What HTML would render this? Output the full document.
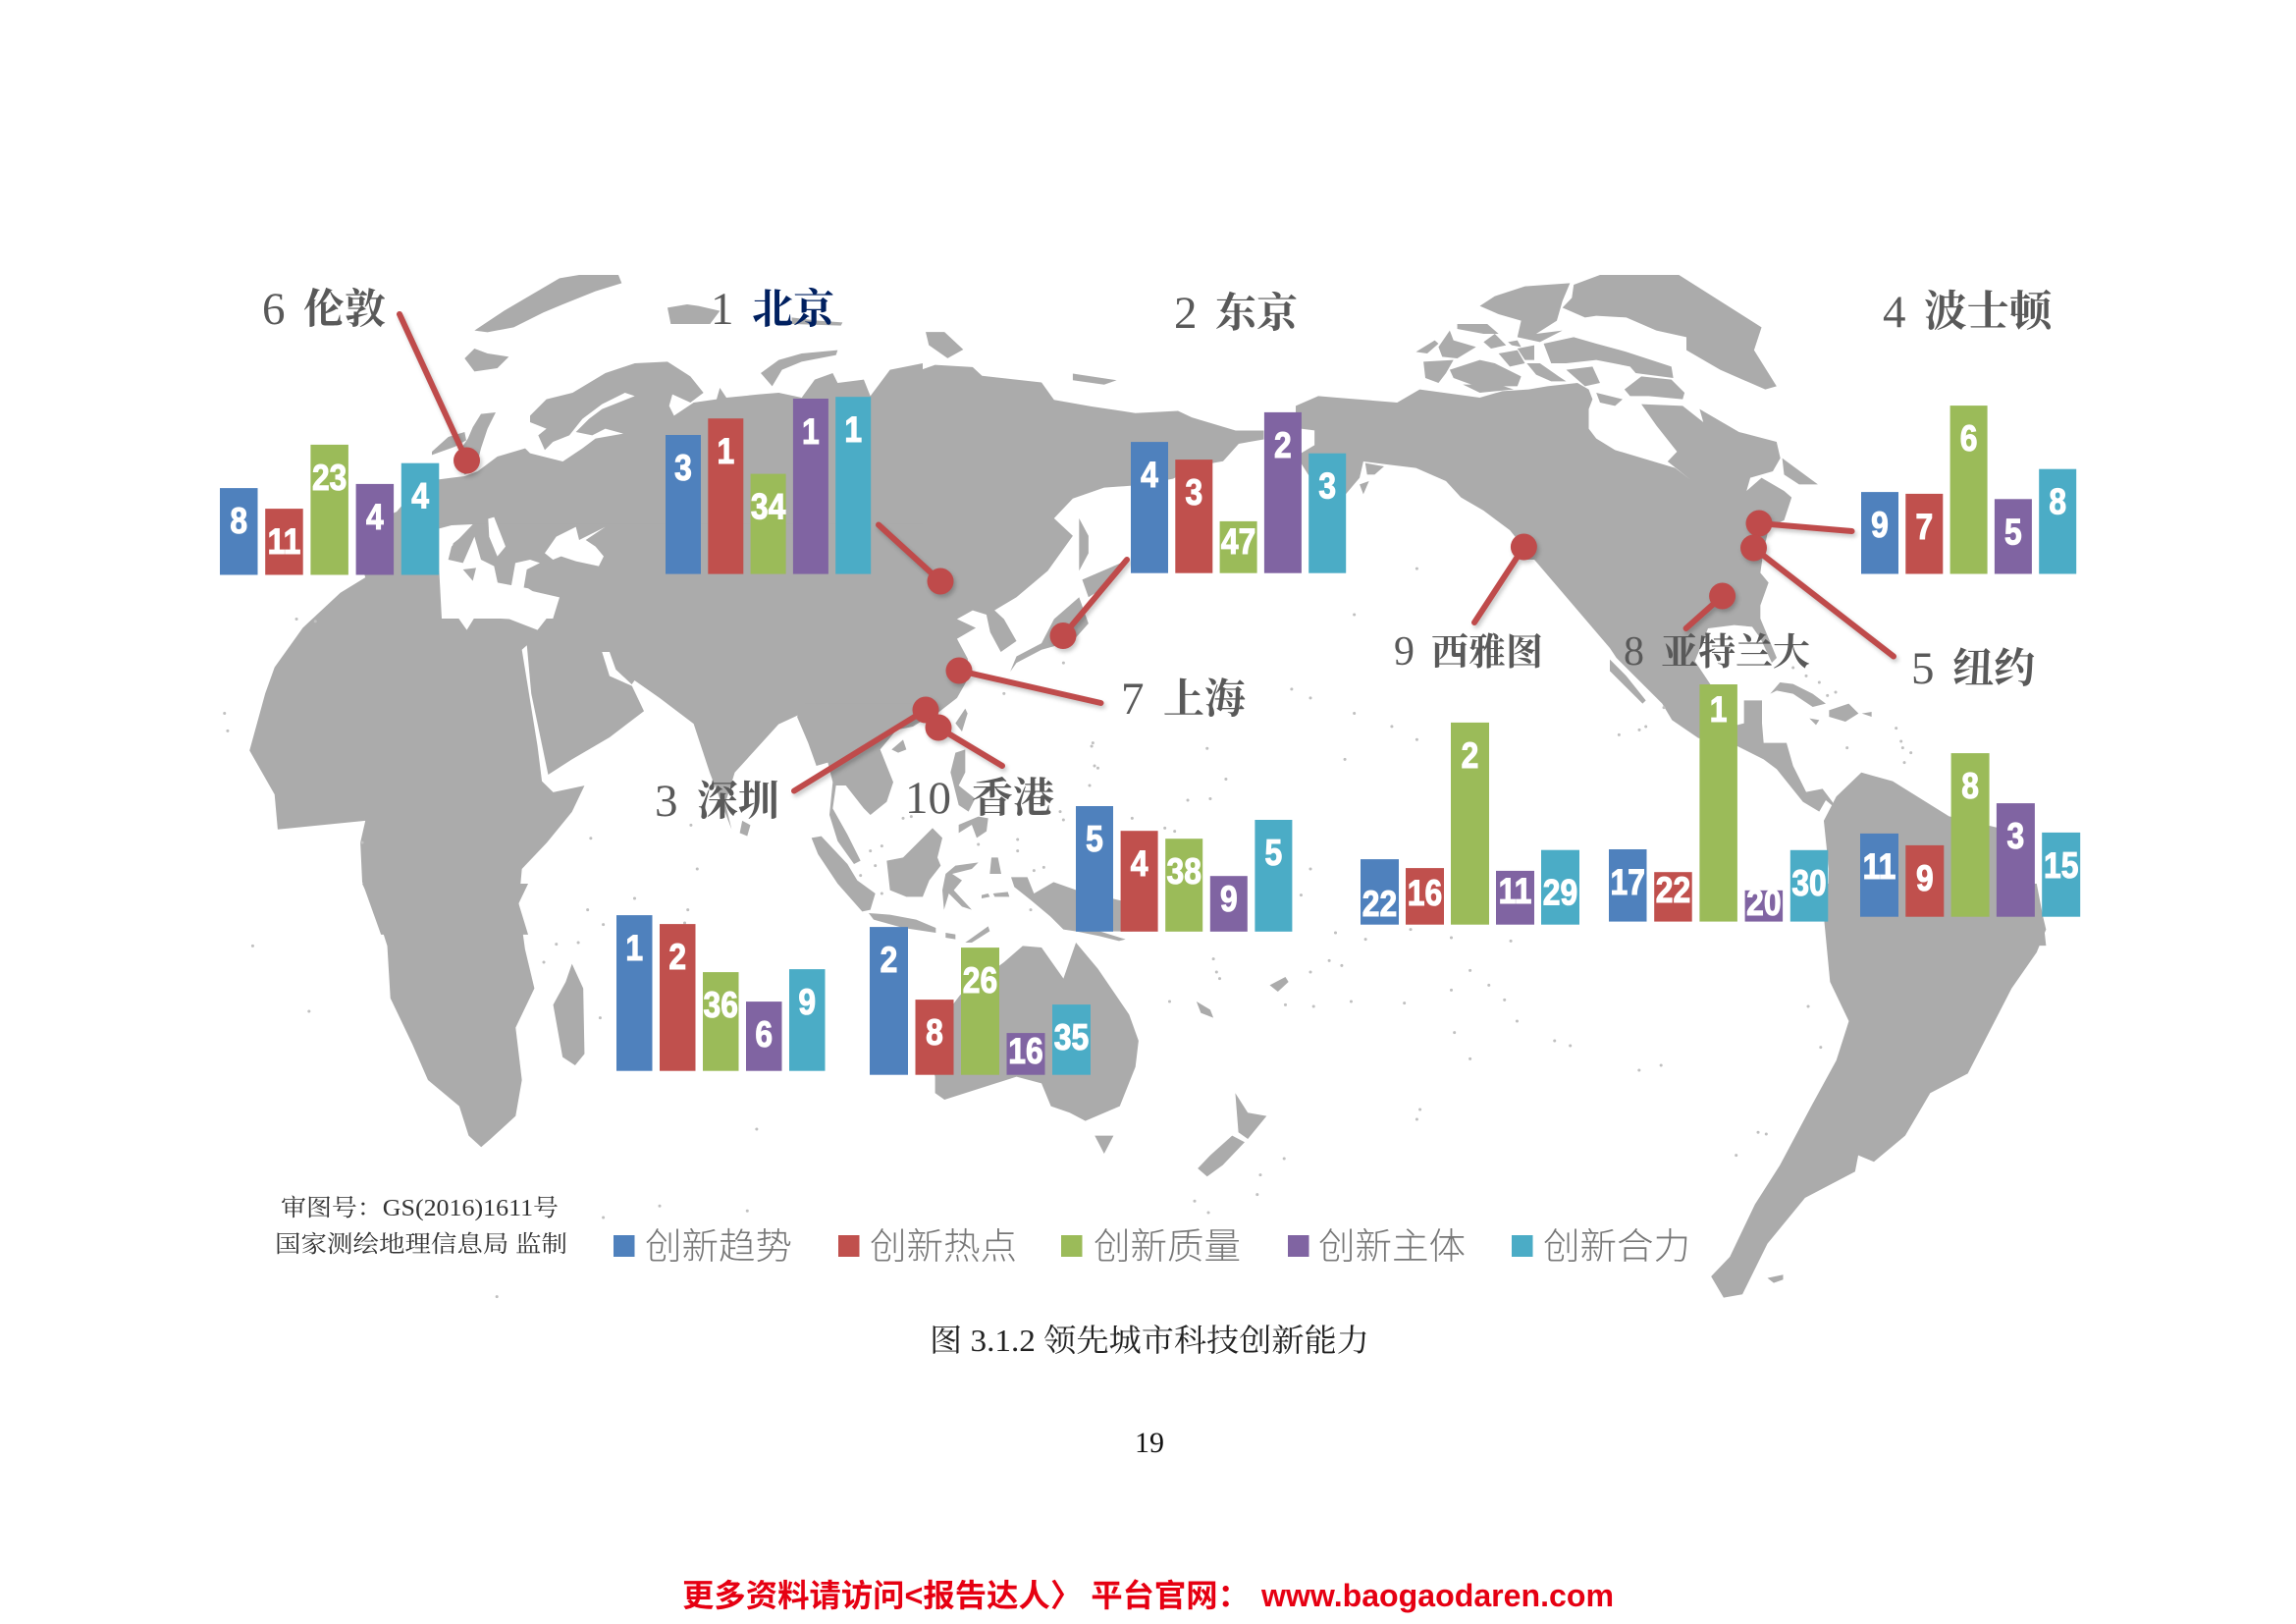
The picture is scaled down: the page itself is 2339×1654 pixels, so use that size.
<!DOCTYPE html>
<html lang="zh">
<head>
<meta charset="utf-8">
<title>领先城市科技创新能力</title>
<style>
html,body{margin:0;padding:0;background:#fff}
svg{display:block}
.land{fill:#ababab}
.sea{fill:#fff}
.dots{fill:none;stroke:#c0c0c0;stroke-width:3;stroke-linecap:round}
.dots{vector-effect:non-scaling-stroke}
.city-num{font-family:"Liberation Serif",serif;font-size:47px;fill:#595959}
.city-num.small{font-size:42px}
.city-name{font-family:"Liberation Serif","Noto Serif CJK SC",serif;font-size:42px;font-weight:700;fill:#595959}
.legend-text{font-family:"Liberation Sans","Noto Sans CJK SC",sans-serif;font-size:37px;font-weight:300;fill:#777}
.note{font-family:"Liberation Serif","Noto Serif CJK SC",serif;font-size:24px;fill:#333}
#leaders{filter:drop-shadow(2px 3px 2px rgba(0,0,0,.22))}
</style>
</head>
<body>
<svg id="chart" xmlns="http://www.w3.org/2000/svg" width="2339" height="1654" viewBox="0 0 2339 1654">
<rect width="2339" height="1654" fill="#fff"/>
<g id="world-map">
  <g transform="translate(200 260) scale(.6378 .4464)">
    <polygon class="land" points="85,1130 110,1000 125,940 170,850 230,770 270,735 262,700 265,620 320,585 335,560 385,510 395,600 1160,600 1160,260 1180,250 1240,255 1255,275 1350,290 1370,330 1430,345 1500,360 1568,355 1590,370 1660,400 1705,400 1705,420 1665,430 1640,470 1600,480 1560,510 1500,525 1450,530 1400,555 1370,600 1400,640 1360,720 1310,780 1275,810 1290,830 1310,880 1285,905 1268,860 1262,820 1240,810 1215,830 1245,850 1215,875 1232,920 1235,960 1215,1010 1170,1060 960,1050 930,1070 860,1180 845,1250 855,1310 820,1180 790,1050 800,1075 740,1010 700,970 695,980 715,1040 660,1100 600,1150 562,1185 535,1000 528,890 520,900 545,1120 552,1200 570,1225 620,1210 600,1270 560,1340 520,1400 515,1480 530,1550 295,1550 265,1430 262,1340 270,1290 130,1310 125,1230"/>
    <polygon class="sea" points="390,770 412,728 530,760 575,800 545,855 500,830 445,825 432,855 405,800"/>
    <polygon class="sea" points="648,905 660,905 670,945 700,985 660,960"/>
    <polygon class="land" points="1165,175 1195,175 1225,215 1200,235 1170,205"/>
    <polygon class="land" points="1400,270 1470,285 1450,295 1400,285"/>
    <polygon class="land" points="872,1290 885,1300 880,1325 868,1318"/>
    <polygon class="land" points="1300,950 1310,915 1350,885 1370,830 1410,780 1425,840 1400,880 1350,900 1310,930"/>
    <polygon class="land" points="1415,740 1480,700 1460,750 1425,780"/>
    <polygon class="land" points="1410,600 1425,640 1425,680 1410,720 1410,650"/>
    <path class="dots" d="M160 830h.1M190 835h.1M45 1045h.1M50 1085h.1M265 1340h.1M630 1330h.1M790 1300h.1M800 1400h.1M1430 1120h.1M1440 1170h.1M1385 930h.1M1290 1000h.1"/>
  </g>
  <g transform="translate(440 280) scale(.33333)">
    <polygon class="land" points="20,625 60,620 100,615 140,600 200,555 285,530 300,545 340,555 400,570 460,530 500,500 585,485 530,470 490,490 440,480 480,440 520,410 620,370 590,360 520,395 460,440 420,490 370,510 345,535 325,490 350,470 300,450 300,430 350,380 430,360 530,300 620,270 720,265 790,310 830,360 790,390 735,365 725,400 740,430 800,390 870,380 880,345 900,375 1000,365 1060,360 1130,375 1170,320 1225,300 1240,330 1320,320 1340,370 1400,290 1500,270 1500,760 20,760"/>
    <polygon class="sea" points="22,775 60,765 125,762 60,830 50,870 95,880 130,800 150,870 190,890 205,960 240,965 255,880 300,870 330,880 290,900 280,960 390,985 370,1050 30,1050 22,900"/>
    <polygon class="sea" points="172,745 190,740 225,830 200,860 175,800"/>
    <polygon class="sea" points="345,850 380,800 440,770 450,810 530,770 470,810 500,830 525,860 510,890 440,875 395,860 370,870"/>
    <polygon class="land" points="65,820 110,785 95,850 55,870"/>
    <polygon class="land" points="95,900 135,895 125,935"/>
    <polygon class="land" points="130,170 220,110 390,10 450,0 570,0 580,25 500,50 400,90 340,115 250,160 170,175"/>
    <polygon class="land" points="100,255 130,225 170,240 235,250 200,285 130,295"/>
    <polygon class="land" points="110,500 125,465 150,425 195,420 170,470 150,530 140,570 130,600 100,610 70,570 90,530"/>
    <polygon class="land" points="0,540 50,495 100,480 105,505 70,525 0,550"/>
    <polygon class="land" points="720,100 780,90 815,95 880,110 850,150 790,150 730,150"/>
    <polygon class="land" points="1100,130 1180,140 1255,145 1250,155 1100,150"/>
    <polygon class="land" points="1005,300 1060,260 1130,240 1240,230 1235,245 1130,265 1070,290 1040,340"/>
  </g>
  <g transform="translate(820 700) scale(.33333)">
    <polygon class="land" points="378,90 330,120 280,130 230,190 270,290 250,350 200,390 180,370 125,300 95,300 85,370 130,450 170,530 150,540 100,470 75,390 85,290 70,230 35,240 10,170 -24,90 0,50 378,50"/>
    <polygon class="land" points="265,190 300,160 310,190 285,200"/>
    <polygon class="land" points="20,460 50,455 130,540 160,590 215,630 200,680 175,685 100,600 40,510"/>
    <polygon class="land" points="250,530 300,520 390,430 420,460 405,520 415,545 380,590 360,640 310,640 260,620"/>
    <polygon class="land" points="195,690 260,695 340,710 400,735 400,750 300,735 210,710"/>
    <polygon class="land" points="430,570 460,545 530,535 510,555 450,570 480,590 455,620 510,680 480,670 440,630 425,680 420,620"/>
    <polygon class="land" points="460,200 490,190 490,260 470,300 520,340 500,380 470,360 445,260"/>
    <polygon class="land" points="470,420 530,395 560,400 555,440 525,460 510,420 470,445"/>
    <polygon class="land" points="460,110 490,65 497,80 480,135"/>
    <polygon class="land" points="490,780 560,730 565,745 510,780"/>
    <polygon class="land" points="430,750 460,755 460,770 430,765"/>
    <polygon class="land" points="575,630 620,625 625,640 580,640"/>
    <polygon class="land" points="540,635 560,630 565,640 540,645"/>
    <polygon class="land" points="570,520 590,520 600,570 565,570"/>
    <polygon class="land" points="630,580 680,580 700,630 760,595 830,620 1000,660 1000,746 900,745 980,770 960,775 900,760 830,746 790,740 750,700 690,650 640,610"/>
    <path class="dots" d="M300 400h.1M325 395h.1M200 500h.1M235 485h.1M215 545h.1M170 575h.1M235 630h.1M650 465h.1M650 500h.1M530 480h.1M880 170h.1M885 240h.1M870 300h.1M1000 400h.1M790 405h.1M780 380h.1M700 560h.1M730 550h.1M690 680h.1M1100 430h.1M1130 440h.1M1170 345h.1"/>
  </g>
  <g transform="translate(200 900) scale(.6378 .3333)">
    <polygon class="land" points="265,0 530,0 515,60 525,200 540,320 510,440 520,600 510,710 470,780 455,805 435,770 420,680 370,600 345,490 310,350 305,190 290,100"/>
    <polygon class="land" points="600,245 618,320 620,520 605,555 585,530 570,370 590,300"/>
    <polygon class="land" points="1290,240 1320,190 1350,195 1385,290 1405,180 1440,260 1490,400 1505,480 1500,560 1475,680 1420,725 1395,700 1365,680 1350,610 1310,590 1195,660 1180,640 1180,590 1165,480 1220,340"/>
    <polygon class="land" points="1435,770 1465,770 1450,825"/>
    <path class="dots" d="M90 190h.1M180 390h.1M700 45h.1M785 80h.1M780 120h.1M625 80h.1M650 125h.1M645 410h.1M555 240h.1M575 185h.1M610 180h.1M895 750h.1M740 985h.1M880 1000h.1M650 1020h.1M480 1262h.1"/>
  </g>
  <g transform="translate(1320 270) scale(.3827 .33333)">
    <polygon class="land" points="740,60 810,30 1020,30 1240,190 1220,260 1280,370 1250,380 1130,320 1040,260 1040,220 960,200 880,160 800,155 770,160 710,130 735,100"/>
    <polygon class="land" points="490,125 530,95 610,65 730,55 710,110 695,170 640,210 710,200 650,235 590,220 600,170 540,150"/>
    <polygon class="land" points="320,265 370,230 380,240 350,270"/>
    <polygon class="land" points="380,250 410,200 420,230 480,250 430,285 390,280"/>
    <polygon class="land" points="430,180 510,180 540,210 500,210 430,195"/>
    <polygon class="land" points="500,235 530,210 560,245 520,255"/>
    <polygon class="land" points="565,235 590,230 600,250 575,245"/>
    <polygon class="land" points="340,295 420,290 400,330 380,360 345,345"/>
    <polygon class="land" points="410,320 490,290 530,300 600,340 590,370 480,370 420,345"/>
    <polygon class="land" points="445,365 540,365 580,380 490,390"/>
    <polygon class="land" points="540,270 590,260 610,300 570,310"/>
    <polygon class="land" points="590,255 635,245 635,290 610,290"/>
    <polygon class="land" points="615,300 650,300 700,340 720,355 680,355 640,335"/>
    <polygon class="land" points="660,240 740,220 800,240 880,265 1000,310 1005,345 905,330 890,310 800,290 720,300 680,300"/>
    <polygon class="land" points="875,380 920,340 1000,350 1035,390 1030,410 940,400 890,400"/>
    <polygon class="land" points="720,320 790,310 810,360 770,370"/>
    <polygon class="land" points="800,390 870,410 850,430 810,420"/>
    <polygon class="land" points="0,430 60,400 110,405 270,420 330,380 490,405 550,385 620,380 670,370 750,360 780,380 790,410 780,440 780,500 800,530 850,565 1010,620 1050,655 990,600 1015,570 960,490 920,425 1030,430 1085,480 1075,440 1180,510 1280,540 1290,590 1270,630 1210,650 1200,690 1240,650 1300,690 1320,710 1300,780 1260,800 1240,900 605,900 605,860 570,810 500,750 440,710 400,660 320,620 250,610 180,600 170,650 133,700 100,760 0,580"/>
    <polygon class="land" points="1295,590 1390,670 1340,670 1300,640"/>
    <polygon class="land" points="185,605 235,615 210,640 190,640"/>
    <polygon class="land" points="170,670 195,660 180,700"/>
    <polygon class="sea" points="14,500 50,505 50,550 14,575"/>
  </g>
  <g transform="translate(1640 560) scale(.33333)">
    <polygon class="land" points="-265,-10 0,300 20,330 160,470 190,520 270,575 390,600 470,640 510,670 590,770 640,800 660,765 690,790 680,770 650,730 600,740 560,660 540,590 470,590 465,530 465,460 410,460 410,530 390,535 300,400 260,340 300,240 380,230 435,235 460,270 495,345 510,330 460,210 460,170 485,100 460,70 470,0 470,-20 -265,-20"/>
    <polygon class="land" points="0,335 50,385 110,460 100,470 50,420 0,370"/>
    <polygon class="land" points="490,440 520,405 560,410 620,440 660,470 620,480 560,440 510,430"/>
    <polygon class="land" points="670,490 730,470 760,500 720,525 670,510"/>
    <polygon class="land" points="610,515 640,520 630,535"/>
    <polygon class="land" points="770,500 800,495 800,510"/>
    <path class="dots" d="M560 360h.1M600 385h.1M640 405h.1M690 435h.1M665 445h.1M875 545h.1M890 585h.1M895 605h.1M920 620h.1M900 650h.1M725 605h.1M90 550h.1M110 540h.1M28 565h.1M165 482h.1"/>
  </g>
  <g transform="translate(1150 260) scale(.6378 .4464)">
    <polygon class="land" points="1110,1290 1130,1235 1170,1180 1220,1200 1310,1280 1400,1310 1460,1510 1465,1575 1115,1575 1118,1400"/>
    <path class="dots" d="M360 820h.1M460 715h.1M260 990h.1M290 1010h.1M360 1045h.1M420 1075h.1M460 1105h.1M125 1125h.1M345 1150h.1M155 1195h.1M130 1240h.1M290 1400h.1"/>
  </g>
  <g transform="translate(1150 900) scale(.6378 .3333)">
    <polygon class="land" points="1109,80 1120,300 1150,420 1130,540 1090,680 1040,860 1000,980 960,1140 930,1200 950,1265 980,1255 1020,1100 1080,960 1160,880 1165,830 1190,850 1240,770 1280,640 1340,580 1410,320 1450,210 1465,140 1460,100 1450,0 1112,0"/>
    <polygon class="land" points="1020,1205 1045,1195 1045,1210 1030,1220"/>
    <polygon class="land" points="170,640 190,700 220,710 190,780 175,760"/>
    <polygon class="land" points="165,770 185,790 150,860 125,895 110,870 130,830"/>
    <polygon class="land" points="225,310 250,285 255,300 238,330"/>
    <polygon class="land" points="108,360 130,385 135,410 115,395"/>
    <path class="dots" d="M275 35h.1M330 150h.1M378 170h.1M450 140h.1M515 165h.1M610 175h.1M135 230h.1M140 270h.1M145 290h.1M65 360h.1M320 235h.1M340 250h.1M290 270h.1M250 370h.1M295 375h.1M355 360h.1M440 365h.1M515 325h.1M545 265h.1M575 310h.1M600 355h.1M620 420h.1M520 455h.1M545 535h.1M680 480h.1M705 495h.1M815 570h.1M850 555h.1M1085 375h.1M1105 500h.1M465 690h.1M460 720h.1M248 840h.1M210 890h.1M205 950h.1M105 970h.1M127 1005h.1M1005 760h.1M1018 765h.1M970 830h.1"/>
  </g>
</g>
<g id="leaders"></g>
<g id="bars"></g>

<g>
  <text class="city-num" x="267" y="330">6</text>
  <text class="city-name" x="309" y="329">伦敦</text>
  <text class="city-num" x="724" y="330">1</text>
  <text class="city-name" x="766" y="329" style="fill:#002060">北京</text>
  <text class="city-num" x="1196" y="334">2</text>
  <text class="city-name" x="1238" y="333">东京</text>
  <text class="city-num" x="1918" y="333">4</text>
  <text class="city-name" x="1960" y="332" style="font-size:43.5px">波士顿</text>
  <text class="city-num" x="667" y="831">3</text>
  <text class="city-name" x="710" y="830">深圳</text>
  <text class="city-num" x="922" y="828">10</text>
  <text class="city-name" x="990" y="827">香港</text>
  <text class="city-num" x="1142" y="727">7</text>
  <text class="city-name" x="1185" y="726">上海</text>
  <text class="city-num small" x="1420" y="677">9</text>
  <text class="city-name" x="1458" y="677" style="font-size:38px">西雅图</text>
  <text class="city-num small" x="1654" y="677">8</text>
  <text class="city-name" x="1692" y="677" style="font-size:38px">亚特兰大</text>
  <text class="city-num" x="1947" y="696">5</text>
  <text class="city-name" x="1989" y="695">纽约</text>
</g>

<g>
  <text class="note" x="286" y="1238" textLength="283" lengthAdjust="spacingAndGlyphs">审图号：GS(2016)1611号</text>
  <text class="note" x="280" y="1275" textLength="298" lengthAdjust="spacingAndGlyphs">国家测绘地理信息局 监制</text>
</g>

<g id="legend"></g>

<text x="947" y="1376" textLength="448" lengthAdjust="spacingAndGlyphs" style="font-family:'Liberation Serif','Noto Serif CJK SC',serif;font-size:32px;fill:#222">图 3.1.2 领先城市科技创新能力</text>
<text x="1156" y="1479" style="font-family:'Liberation Serif',serif;font-size:30px;fill:#111">19</text>
<g style="font-family:'Liberation Sans','Noto Sans CJK SC',sans-serif;font-size:32px;font-weight:700;fill:#e60012">
  <text x="695" y="1636" textLength="578" lengthAdjust="spacingAndGlyphs">更多资料请访问&lt;报告达人〉 平台官网：</text>
  <text x="1285" y="1636" textLength="359" lengthAdjust="spacingAndGlyphs">www.baogaodaren.com</text>
</g>
</svg>

<script>
/* Chart data: estimated score heights and printed ranks */
var metrics = ['创新趋势', '创新热点', '创新质量', '创新主体', '创新合力'];
var metricSlugs = ['trend', 'hotspot', 'quality', 'actors', 'synergy'];
var metricColors = ['#4f81bd', '#c0504d', '#9bbb59', '#8064a2', '#4bacc6'];
var cities = ['london', 'beijing', 'tokyo', 'boston', 'shanghai', 'seattle', 'atlanta', 'new-york', 'shenzhen', 'hong-kong'];

var scoresLondon = [44.2, 33.7, 66.3, 46.3, 56.9];
var scoresBeijing = [70.8, 79.2, 51, 89.3, 90.2];
var scoresTokyo = [66.8, 57.8, 26.4, 81.9, 61];
var scoresBoston = [41.7, 40.8, 85.7, 38.1, 53.4];
var scoresShanghai = [63.9, 51.3, 47.3, 28.3, 56.9];
var scoresSeattle = [33.3, 28.8, 102.9, 27.4, 38];
var scoresAtlanta = [36.8, 25.2, 120.8, 15.9, 36.4];
var scoresNewYork = [42.4, 36.4, 83.3, 57.8, 42.9];
var scoresShenzhen = [79.3, 74.8, 50.3, 35.3, 51.8];
var scoresHongKong = [75.3, 38.3, 64.8, 21.3, 35.8];

var ranksLondon = [8, 11, 23, 4, 4];
var ranksBeijing = [3, 1, 34, 1, 1];
var ranksTokyo = [4, 3, 47, 2, 3];
var ranksBoston = [9, 7, 6, 5, 8];
var ranksShanghai = [5, 4, 38, 9, 5];
var ranksSeattle = [22, 16, 2, 11, 29];
var ranksAtlanta = [17, 22, 1, 20, 30];
var ranksNewYork = [11, 9, 8, 3, 15];
var ranksShenzhen = [1, 2, 36, 6, 9];
var ranksHongKong = [2, 8, 26, 16, 35];

var allScores = [scoresLondon, scoresBeijing, scoresTokyo, scoresBoston, scoresShanghai, scoresSeattle, scoresAtlanta, scoresNewYork, scoresShenzhen, scoresHongKong];
var allRanks = [ranksLondon, ranksBeijing, ranksTokyo, ranksBoston, ranksShanghai, ranksSeattle, ranksAtlanta, ranksNewYork, ranksShenzhen, ranksHongKong];

/* Layout only (not data) */
var NS = 'http://www.w3.org/2000/svg';
var UNIT = 2;
var groupLayout = {
  'london':    {left: 224,  base: 585.5, pitch: 46.2, w: 38.5},
  'beijing':   {left: 678,  base: 584.6, pitch: 43.3, w: 36},
  'tokyo':     {left: 1152, base: 583.7, pitch: 45.3, w: 38},
  'boston':    {left: 1896, base: 584.5, pitch: 45.3, w: 38},
  'shanghai':  {left: 1096, base: 948.8, pitch: 45.6, w: 38},
  'seattle':   {left: 1386, base: 941.7, pitch: 46,   w: 39},
  'atlanta':   {left: 1639, base: 938.6, pitch: 46.2, w: 38.5},
  'new-york':  {left: 1895, base: 933.7, pitch: 46.3, w: 39},
  'shenzhen':  {left: 628,  base: 1090.7, pitch: 44, w: 36.5},
  'hong-kong': {left: 886,  base: 1094.7, pitch: 46.5, w: 39}
};
var labelOffset = 33;
var labelOffsetOverrides = {
  'seattle-0': 45, 'seattle-1': 25, 'seattle-3': 20, 'seattle-4': 43,
  'atlanta-1': 18, 'atlanta-2': 25, 'atlanta-3': 12,
  'shanghai-3': 23, 'tokyo-2': 20, 'hong-kong-3': 18
};
var leaderLayout = {
  'london':    [475.5, 469, 407, 320],
  'beijing':   [958, 592, 895, 534.5],
  'tokyo':     [1083, 647.5, 1148, 570],
  'boston':    [1792, 533, 1886.6, 541],
  'shanghai':  [977, 683, 1121.5, 716],
  'seattle':   [1552.4, 557, 1502, 634],
  'atlanta':   [1754.6, 607, 1717.6, 640],
  'new-york':  [1786.5, 558, 1929, 668.5],
  'shenzhen':  [943, 723, 809, 805.5],
  'hong-kong': [956, 741, 1021, 780]
};
var legendLayout = [{sq: 625, tx: 657}, {sq: 854, tx: 886}, {sq: 1081, tx: 1114}, {sq: 1312, tx: 1343}, {sq: 1540, tx: 1572}];

function barHeight(v) { return v * UNIT; }
function valueY(v, base) { return base - barHeight(v); }
function barX(g, i) { return g.left + i * g.pitch; }

var barsRoot = document.getElementById('bars');
var leadersRoot = document.getElementById('leaders');
var legendRoot = document.getElementById('legend');

cities.forEach(function (city, c) {
  var g = groupLayout[city];
  var group = document.createElementNS(NS, 'g');
  
  
  barsRoot.appendChild(group);
  allScores[c].forEach(function (v, i) {
    var x = barX(g, i), top = valueY(v, g.base);
    var rect = document.createElementNS(NS, 'rect');
    
    
    rect.setAttribute('x', x);
    rect.setAttribute('y', top);
    rect.setAttribute('width', g.w);
    rect.setAttribute('height', barHeight(v));
    rect.setAttribute('fill', metricColors[i]);
    group.appendChild(rect);

    var key = city + '-' + i;
    var off = labelOffsetOverrides[key] !== undefined ? labelOffsetOverrides[key] : labelOffset;
    var cx = x + g.w / 2, cy = top + off + 13;
    var t = document.createElementNS(NS, 'text');
    
    
    t.setAttribute('transform', 'translate(' + cx + ' ' + cy + ') scale(.86 1)');
    t.setAttribute('text-anchor', 'middle');
    t.setAttribute('style', 'font-family:"Liberation Sans",sans-serif;font-weight:700;font-size:37px;fill:#fff;stroke:#fff;stroke-width:1.1');
    t.textContent = allRanks[c][i];
    group.appendChild(t);
  });

  var L = leaderLayout[city];
  var line = document.createElementNS(NS, 'line');
  
  
  line.setAttribute('x1', L[0]);
  line.setAttribute('y1', L[1]);
  line.setAttribute('x2', L[2]);
  line.setAttribute('y2', L[3]);
  line.setAttribute('stroke', '#bf4b4b');
  line.setAttribute('stroke-width', '6');
  line.setAttribute('stroke-linecap', 'round');
  leadersRoot.appendChild(line);

  var dot = document.createElementNS(NS, 'circle');
  
  
  dot.setAttribute('cx', L[0]);
  dot.setAttribute('cy', L[1]);
  dot.setAttribute('r', '13.5');
  dot.setAttribute('fill', '#bf4b4b');
  leadersRoot.appendChild(dot);
});

metrics.forEach(function (m, i) {
  var sq = document.createElementNS(NS, 'rect');
  
  
  sq.setAttribute('x', legendLayout[i].sq);
  sq.setAttribute('y', 1258);
  sq.setAttribute('width', 21.5);
  sq.setAttribute('height', 22);
  sq.setAttribute('fill', metricColors[i]);
  legendRoot.appendChild(sq);

  var tx = document.createElementNS(NS, 'text');
  
  
  tx.setAttribute('class', 'legend-text');
  tx.setAttribute('x', legendLayout[i].tx);
  tx.setAttribute('y', 1282);
  tx.setAttribute('textLength', 150);
  tx.setAttribute('lengthAdjust', 'spacingAndGlyphs');
  tx.textContent = m;
  legendRoot.appendChild(tx);
});
</script>
</body>
</html>
